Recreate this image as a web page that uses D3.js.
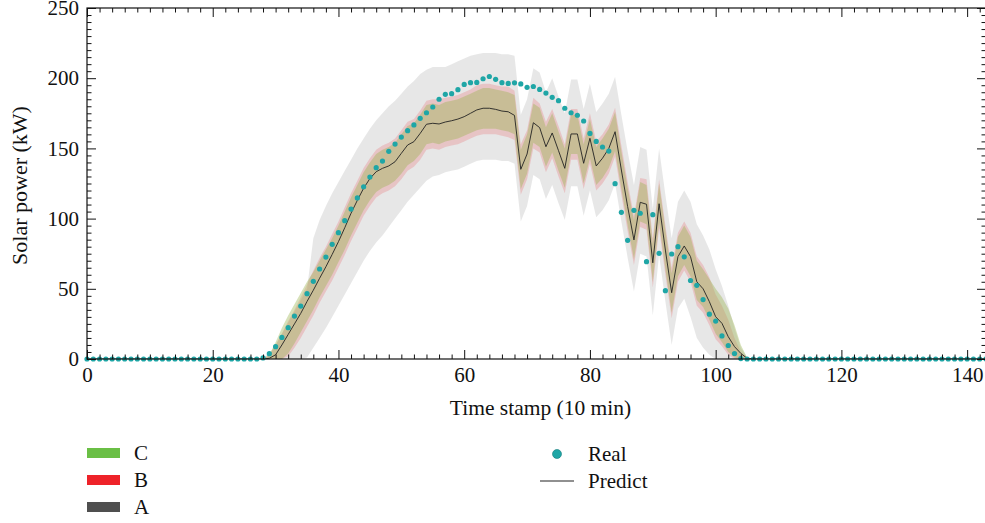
<!DOCTYPE html>
<html><head><meta charset="utf-8">
<script src="https://cdn.jsdelivr.net/npm/d3@7"></script>
<style>body{margin:0;background:#fff} svg{display:block} text{font-family:"Liberation Serif","DejaVu Serif",serif;fill:#111}</style>
</head><body><svg id="c" width="985" height="523"></svg>
<script>
const xTicks = [0,20,40,60,80,100,120,140];
const yTicks = [0,50,100,150,200,250];
const bandNames = ["C","B","A"];
const markNames = ["Real","Predict"];

const real = [
0,0,0,0,0,0,0,0,0,0,
0,0,0,0,0,0,0,0,0,0,
0,0,0,0,0,0,0,0,0.8,3.8,
8.8,15.4,22.3,30.6,37.7,46.5,55.3,64.1,72.6,81.7,
90,98.5,106.8,114.7,122.7,129.6,136.3,141,147.9,153.1,
158.1,162.6,166.7,171.4,175.4,179.5,185,188.5,189,191.8,
195.6,196.8,197,199.6,201.2,199.2,196.8,196.3,196.7,195.9,
193.5,194.1,192,189.4,186.4,184,178.6,175.4,173.6,169.5,
160.7,155,151,148.1,124.9,104.5,84.5,105.9,103.8,69.3,
102.8,75.3,48.7,74.8,80,72.8,55.9,52.5,42.3,31.9,
27,16.4,9.6,3.9,0.3,0,0,0,0,0,
0,0,0,0,0,0,0,0,0,0,
0,0,0,0,0,0,0,0,0,0,
0,0,0,0,0,0,0,0,0,0,
0,0,0,0];

const predict = [
0,0,0,0,0,0,0,0,0,0,
0,0,0,0,0,0,0,0,0,0,
0,0,0,0,0,0,0,0,0,0.5,
3,10,17.5,25,32.5,41,49,57.5,65.7,74.5,
83.6,93.5,103.8,113,121.6,128.5,133.4,135.8,137.5,140.5,
146.5,152.4,154.8,160.7,167.2,167.9,167.4,168.8,169.7,170.9,
172.6,175,177.4,178.6,178.6,177.8,176.6,176.1,173.5,135.1,
146,168.3,164.8,151.2,161,148.4,135.8,160.3,160.3,139.4,
157.2,137.5,143,150,161.9,134.6,108.5,84.8,111.6,110.2,
68.5,110.6,77.6,47.2,72.9,80.5,72.9,55,50,40.8,
30.1,25.4,15.9,8.8,4,0.5,0,0,0,0,
0,0,0,0,0,0,0,0,0,0,
0,0,0,0,0,0,0,0,0,0,
0,0,0,0,0,0,0,0,0,0,
0,0,0,0];

// bands cover time stamps 28..106
const bandStart = 28;
const cLow = [
0,0,0,0,4,11,19,27,35,44,
52,60,69,78,88,97,106,113,119,122,
124,127,132,138,141,146,153,154,153,155,
156,157,159,161,163,164,164,164,163,162,
160,121,132,154,151,137,147,134,122,146,
146,125,143,124,129,136,148,121,95,71,
98,96,55,97,64,33,59,67,59,42,
37,28,18,12,5,1,0,0,0];
const cHigh = [
0,3,12,22,31,39,47,55,62,70,
78,86,95,105,115,124,133,140,146,149,
151,154,160,166,168,174,181,182,181,183,
184,185,187,189,191,193,193,192,191,190,
188,149,160,182,179,165,175,162,150,174,
174,153,171,151,157,164,176,148,122,99,
126,124,82,125,92,61,87,95,87,70,
64,57,50,44,36,24,10,1,0];
const bLow = [
0,0,0,0,2,8,15,23,31,40,
48,56,65,74,84,93,102,109,115,118,
120,123,128,134,137,142,149,150,149,151,
152,153,155,157,159,160,160,160,159,158,
156,117,128,150,147,133,143,130,118,142,
142,121,139,120,125,132,144,117,91,67,
94,92,51,93,60,29,55,63,55,38,
33,24,14,9,3,0,0,0,0];
const bHigh = [
0,3,10,18,27,35,44,53,63,72,
80,89,98,108,118,127,136,143,149,152,
154,157,163,169,171,177,184,185,185,186,
187,188,190,192,195,196,196,195,194,194,
191,153,163,186,182,169,178,166,153,178,
178,157,175,155,160,167,179,152,126,102,
129,128,86,128,95,65,90,98,90,73,
67,58,46,38,28,15,5,1,0];
const aLow = [
0,0,0,0,0,0,0,1,8,15,
22,30,38,46,54,62,70,77,83,88,
94,100,106,112,117,122,127,130,131,133,
134,135,137,139,141,142,142,142,141,141,
139,98,109,131,128,114,124,111,99,123,
123,102,120,101,106,113,125,98,72,48,
75,73,31,74,41,10,36,43,30,15,
8,3,0,0,0,0,0,0,0];
const aHigh = [
1,4,10,18,26,34,42,50,86,99,
109,118,126,134,142,150,157,164,170,175,
180,184,189,194,198,203,206,208,208,208,
210,212,214,216,217,218,218,218,217,217,
216,174,185,207,204,190,200,187,175,199,
199,178,196,176,182,189,201,174,148,124,
151,149,107,150,117,86,112,120,112,96,
88,78,64,52,38,22,8,1,0];

const svg = d3.select("#c");
const L = 87, R = 986, T = 8, B = 359;
const x = d3.scaleLinear().domain([0,143]).range([L,R]);
const y = d3.scaleLinear().domain([0,250]).range([B,T]);

svg.append("clipPath").attr("id","pc").append("rect")
  .attr("x",L).attr("y",T).attr("width",R-L).attr("height",B-T);
const g = svg.append("g").attr("clip-path","url(#pc)");

function band(lo, hi){
  return lo.map((v,k)=>({i:bandStart+k, lo:v, hi:hi[k]}));
}
const area = d3.area().x(d=>x(d.i)).y0(d=>y(d.lo)).y1(d=>y(d.hi));
const bands = [
  {name:"A", data:band(aLow,aHigh), fill:"#000000", op:0.095},
  {name:"B", data:band(bLow,bHigh), fill:"#e8282e", op:0.18},
  {name:"C", data:band(cLow,cHigh), fill:"#9cb450", op:0.4}
];
bands.forEach(b=>{
  g.append("path").attr("d",area(b.data)).attr("fill",b.fill).attr("fill-opacity",b.op);
});

const line = d3.line().x((d,i)=>x(i)).y(d=>y(d));
g.append("path").attr("d",line(predict)).attr("fill","none").attr("stroke","#222").attr("stroke-width",0.9);

svg.append("g").selectAll("circle").data(real).join("circle")
  .attr("cx",(d,i)=>x(i)).attr("cy",d=>y(d)).attr("r",2.6).attr("fill","#1fa6a6");

// axes
const minorX = d3.range(0,144,2).filter(v=>v%20!==0);
const minorY = d3.range(0,251,5).filter(v=>v%50!==0);
function styleAxis(sel){ sel.select(".domain").remove(); sel.selectAll("line").attr("stroke","#111").attr("stroke-width",1); sel.selectAll("text").style("font-size","21px").attr("fill","#111"); }
svg.append("g").attr("transform",`translate(0,${B})`).call(d3.axisBottom(x).tickValues(xTicks).tickSize(-9).tickPadding(8)).call(styleAxis);
svg.append("g").attr("transform",`translate(0,${B})`).call(d3.axisBottom(x).tickValues(minorX).tickFormat("").tickSize(-4.5)).call(styleAxis);
svg.append("g").attr("transform",`translate(0,${T})`).call(d3.axisTop(x).tickValues(xTicks).tickFormat("").tickSize(-9)).call(styleAxis);
svg.append("g").attr("transform",`translate(0,${T})`).call(d3.axisTop(x).tickValues(minorX).tickFormat("").tickSize(-4.5)).call(styleAxis);
svg.append("g").attr("transform",`translate(${L},0)`).call(d3.axisLeft(y).tickValues(yTicks).tickSize(-9).tickPadding(8)).call(styleAxis);
svg.append("g").attr("transform",`translate(${L},0)`).call(d3.axisLeft(y).tickValues(minorY).tickFormat("").tickSize(-4.5)).call(styleAxis);
svg.append("g").attr("transform",`translate(${R},0)`).call(d3.axisRight(y).tickValues(yTicks).tickFormat("").tickSize(-9)).call(styleAxis);
svg.append("g").attr("transform",`translate(${R},0)`).call(d3.axisRight(y).tickValues(minorY).tickFormat("").tickSize(-4.5)).call(styleAxis);
svg.append("rect").attr("x",L).attr("y",T).attr("width",R-L).attr("height",B-T).attr("fill","none").attr("stroke","#111").attr("stroke-width",1.2);

svg.append("text").attr("x",(L+R)/2+4).attr("y",415).attr("text-anchor","middle").style("font-size","21.5px").text("Time stamp (10 min)");
svg.append("text").attr("transform",`translate(27,${(T+B)/2+2}) rotate(-90)`).attr("text-anchor","middle").style("font-size","22px").text("Solar power (kW)");

// legend
const legColors = {C:"#6abf45", B:"#ee2229", A:"#4f4f4f"};
bandNames.forEach((n,k)=>{
  const cy = 453 + k*27;
  svg.append("rect").attr("x",87).attr("y",cy-5).attr("width",33).attr("height",10).attr("fill",legColors[n]);
  svg.append("text").attr("x",134).attr("y",cy+7).style("font-size","21px").text(n);
});
svg.append("circle").attr("cx",557).attr("cy",454).attr("r",4.5).attr("fill","#1fa6a6").attr("stroke","#147a7a").attr("stroke-width",0.6);
svg.append("text").attr("x",588).attr("y",461).style("font-size","21px").text(markNames[0]);
svg.append("line").attr("x1",540).attr("x2",574).attr("y1",481).attr("y2",481).attr("stroke","#222").attr("stroke-width",1.2);
svg.append("text").attr("x",588).attr("y",488).style("font-size","21px").text(markNames[1]);
</script></body></html>
